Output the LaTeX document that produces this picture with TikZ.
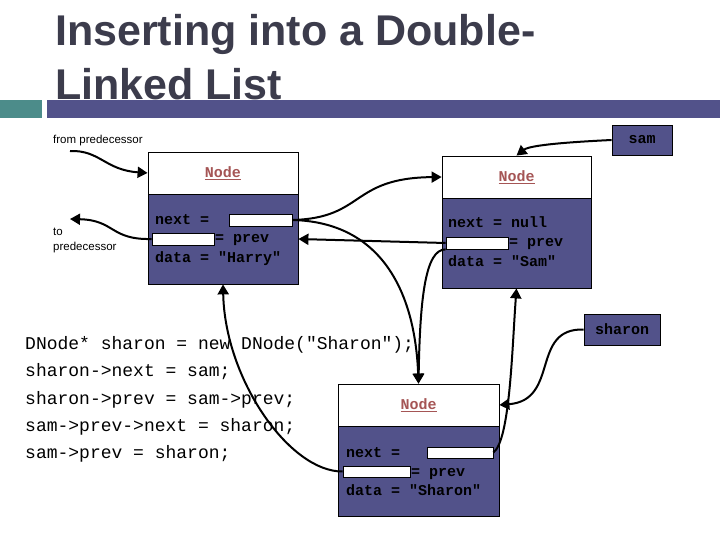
\documentclass[tikz,border=0pt]{standalone}
\usepackage{fontspec}
\setmainfont{Liberation Sans}
\newfontfamily\monofont{Liberation Mono}
\usetikzlibrary{arrows.meta}
\definecolor{nodeblue}{RGB}{82,82,138}
\definecolor{teal2}{RGB}{76,140,138}
\definecolor{titlegray}{RGB}{60,60,76}
\definecolor{hdrred}{RGB}{165,85,85}
\tikzset{
  hdr/.style={draw=black, line width=0.8pt, fill=white, inner sep=0pt,
    font=\monofont\bfseries\fontsize{15}{18}\selectfont, text=hdrred},
  body/.style={draw=black, line width=0.8pt, fill=nodeblue, inner sep=0pt},
  field/.style={draw=black, line width=0.8pt, fill=white, inner sep=0pt},
  mtext/.style={inner sep=0pt, anchor=base west, font=\monofont\bfseries\fontsize{15}{18}\selectfont},
  code/.style={inner sep=0pt, anchor=base west, font=\monofont\fontsize{18}{20}\selectfont},
  lbl/.style={inner sep=0pt, anchor=base west, font=\fontsize{11.5}{13}\selectfont},
  ptr/.style={draw=black, line width=0.8pt, fill=nodeblue, inner sep=0pt,
    font=\monofont\bfseries\fontsize{15}{18}\selectfont},
  link/.style={line width=2pt, -{Triangle[length=10pt,width=11pt]}}
}
\begin{document}
\begin{tikzpicture}[x=1pt,y=-1pt]
\useasboundingbox (0,0) rectangle (720,540);
\fill[white] (0,0) rectangle (720,540);
% title
\node[inner sep=0pt, anchor=base west, text=titlegray, font=\bfseries\fontsize{43}{54}\selectfont] (t1) at (55,46) {Inserting into a Double-};
\node[inner sep=0pt, anchor=base west, text=titlegray, font=\bfseries\fontsize{43}{54}\selectfont] (t2) at (55,100) {Linked List};
\fill[teal2] (0,100) rectangle (42,118);
\fill[nodeblue] (47,100) rectangle (720,118);

% labels
\node[lbl] (fromp) at (53,144) {from predecessor};
\node[lbl] (tolbl) at (53,236) {to};
\node[lbl] (predlbl) at (53,250) {predecessor};
\coordinate (fp) at (70,151);
\coordinate (tp) at (70,219);

% Harry node
\node[hdr, minimum width=150pt, minimum height=42pt] (harryH) at (223,173) {\underline{Node}};
\node[body, minimum width=150pt, minimum height=90pt] (harryB) at (223,239) {};
\node[field, minimum width=63pt, minimum height=12pt] (harryNext) at (260.5,220) {};
\node[field, minimum width=62pt, minimum height=12pt] (harryPrev) at (183,239) {};
\node[mtext] (hn) at (155,225) {next =};
\node[mtext] (hp) at (215,243) {= prev};
\node[mtext] (hd) at (155,262) {data = "Harry"};

% Sam node
\node[hdr, minimum width=149pt, minimum height=42pt] (samH) at (516.5,177) {\underline{Node}};
\node[body, minimum width=149pt, minimum height=90pt] (samB) at (516.5,243) {};
\node[field, minimum width=62pt, minimum height=12pt] (samPrev) at (477,243) {};
\node[mtext] (sn) at (448,228) {next = null};
\node[mtext] (sp) at (509,247) {= prev};
\node[mtext] (sd) at (448,266) {data = "Sam"};

% Sharon node
\node[hdr, minimum width=161pt, minimum height=42pt] (shH) at (418.5,405) {\underline{Node}};
\node[body, minimum width=161pt, minimum height=90pt] (shB) at (418.5,471) {};
\node[field, minimum width=66pt, minimum height=11pt] (shNext) at (460,452.5) {};
\node[field, minimum width=67pt, minimum height=11pt] (shPrev) at (376.5,471.5) {};
\node[mtext] (shn) at (346,457) {next =};
\node[mtext] (shp) at (411,476) {= prev};
\node[mtext] (shd) at (346,495) {data = "Sharon"};

% pointer boxes
\node[ptr, minimum width=60pt, minimum height=30pt] (samBox) at (642,140) {sam};
\node[ptr, minimum width=76pt, minimum height=31pt] (shBox) at (622,329.5) {sharon};

% code
\node[code] (c1) at (25,349) {DNode* sharon = new DNode("Sharon");};
\node[code] (c2) at (25,376) {sharon->next = sam;};
\node[code] (c3) at (25,404) {sharon->prev = sam->prev;};
\node[code] (c4) at (25,431) {sam->prev->next = sharon;};
\node[code] (c5) at (25,458) {sam->prev = sharon;};

% connectors
\draw[link] (fp) .. controls (100,150) and (105,170) .. (harryH.west);
\draw[link] (harryPrev.west) .. controls (110,240) and (115,220) .. (tp);
\draw[link] (harryNext.east) .. controls (365,218) and (350,178) .. (samH.west);
\draw[link] (harryNext.east) .. controls (380,222) and (415,290) .. (shH.north);
\draw[link] (samPrev.west) -- (harryB.east);
\draw[link] (samPrev.south west) .. controls (425,249) and (420,300) .. (shH.north);
\draw[link] (samBox.west) .. controls (570,142) and (530,145) .. (samH.north);
\draw[link] (shBox.west) .. controls (530,328) and (560,400) .. (shH.east);
\draw[link] (shNext.east) .. controls (510,440) and (512,350) .. (samB.south);
\draw[link] (shPrev.west) .. controls (290,472) and (225,380) .. (harryB.south);
\end{tikzpicture}
\end{document}
